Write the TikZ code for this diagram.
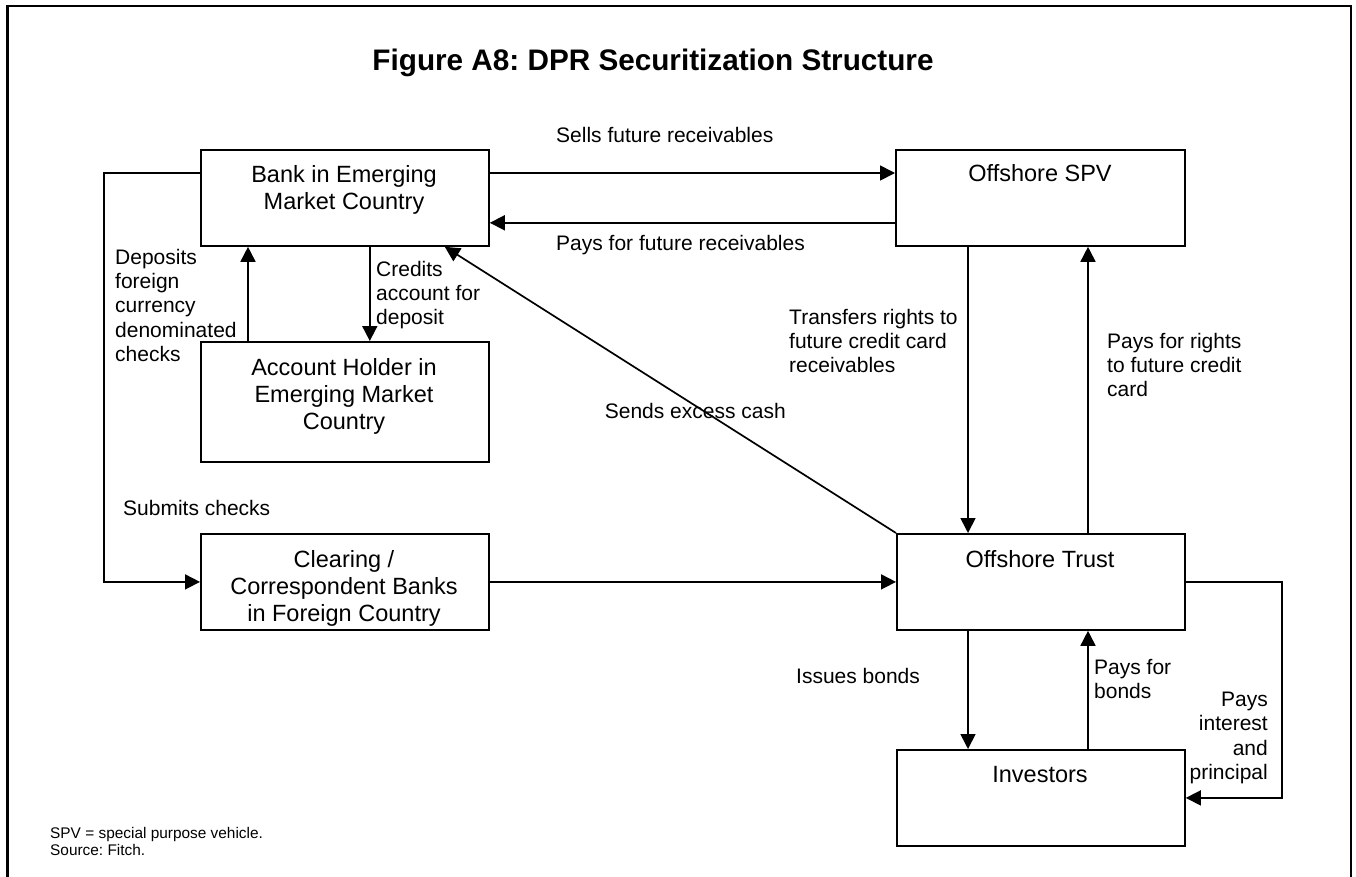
\documentclass[tikz,border=0pt]{standalone}
\usepackage{fontspec}
\setmainfont{Liberation Sans}
\usetikzlibrary{arrows.meta,calc}
\frenchspacing
\begin{document}
\begin{tikzpicture}[x=1pt,y=-1pt,
  box/.style={draw,line width=1.8pt,rectangle,inner sep=0pt,anchor=north west},
  boxtext/.style={anchor=north,inner sep=0pt,align=center,font=\fontsize{23.5}{27}\selectfont},
  lbl/.style={anchor=north west,inner sep=0pt,align=left,font=\fontsize{21}{24.2}\selectfont},
  arr/.style={line width=1.7pt,-{Triangle[length=15pt,width=15pt]}},
  ln/.style={line width=1.7pt}]
\useasboundingbox (0,0) rectangle (1356,876);
\fill[white] (0,0) rectangle (1356,876);
% frame
\draw[line width=2.2pt] (7.5,880) -- (7.5,6) -- (1351,6) -- (1351,880);
% title
\node[inner sep=0pt,anchor=base,font=\bfseries\fontsize{29.7}{34}\selectfont] (title) at (653,70) {Figure A8: DPR Securitization Structure};
% boxes
\node[box,minimum width=288pt,minimum height=96pt] (bank) at (200,149) {};
\node[box,minimum width=288pt,minimum height=120pt] (acc) at (200,341) {};
\node[box,minimum width=289pt,minimum height=96pt] (spv) at (895,149) {};
\node[box,minimum width=288pt,minimum height=96pt] (clearing) at (200,533) {};
\node[box,minimum width=288pt,minimum height=96pt] (trust) at (896,533) {};
\node[box,minimum width=288pt,minimum height=96pt] (investors) at (896,749) {};
% box texts
\node[boxtext] (banktxt) at (344,165) {Bank in Emerging\\Market Country};
\node[boxtext] (acctxt) at (344,358) {Account Holder in\\Emerging Market\\Country};
\node[boxtext] (spvtxt) at (1040,164) {Offshore SPV};
\node[boxtext] (cleartxt) at (344,550) {Clearing /\\Correspondent Banks\\in Foreign Country};
\node[boxtext] (trusttxt) at (1040,550) {Offshore Trust};
\node[boxtext] (invtxt) at (1040,766) {Investors};
% connectors
\draw[arr] ([yshift=-24pt]bank.north east) -- ([yshift=-24pt]spv.north west);
\draw[arr] ([yshift=24pt]spv.south west) -- ([yshift=24pt]bank.south east);
\draw[arr] ([yshift=-24pt]bank.north west) -| ($(clearing.west)+(-96,0)$) -- (clearing.west);
\draw[arr] ([xshift=48pt]acc.north west) -- ([xshift=48pt]bank.south west);
\draw[arr] ([xshift=-120pt]bank.south east) -- ([xshift=-120pt]acc.north east);
\draw[arr] (trust.north west) -- ([xshift=-45pt]bank.south east);
\draw[arr] ([xshift=73pt]spv.south west) -- ([xshift=72pt]trust.north west);
\draw[arr] ([xshift=192pt]trust.north west) -- ([xshift=193pt]spv.south west);
\draw[arr] (clearing.east) -- (trust.west);
\draw[arr] ([xshift=72pt]trust.south west) -- ([xshift=72pt]investors.north west);
\draw[arr] ([xshift=192pt]investors.north west) -- ([xshift=192pt]trust.south west);
\draw[arr] ([yshift=-49pt]trust.north east) -| ($(investors.east)+(96,0)$) -- (investors.east);
% labels
\node[lbl] (l1) at (556,127) {Sells future receivables};
\node[lbl] (l2) at (556,235) {Pays for future receivables};
\node[lbl] (l3) at (115,249) {Deposits\\foreign\\currency\\denominated\\checks};
\node[lbl] (l4) at (376,261) {Credits\\account for\\deposit};
\node[lbl] (l5) at (789,309) {Transfers rights to\\future credit card\\receivables};
\node[lbl] (l6) at (1107,333) {Pays for rights\\to future credit\\card};
\node[lbl,anchor=north east] (l7) at (786,403) {Sends excess cash};
\node[lbl] (l8) at (123,500) {Submits checks};
\node[lbl] (l9) at (796,668) {Issues bonds};
\node[lbl] (l10) at (1094,659) {Pays for\\bonds};
\node[lbl,anchor=north east,align=right] (l11) at (1268,692) {Pays\\interest\\and\\principal};
% footnote
\node[anchor=north west,inner sep=0pt,align=left,font=\fontsize{15.4}{17.6}\selectfont] (foot) at (50,827) {SPV = special purpose vehicle.\\Source: Fitch.};
\end{tikzpicture}
\end{document}
